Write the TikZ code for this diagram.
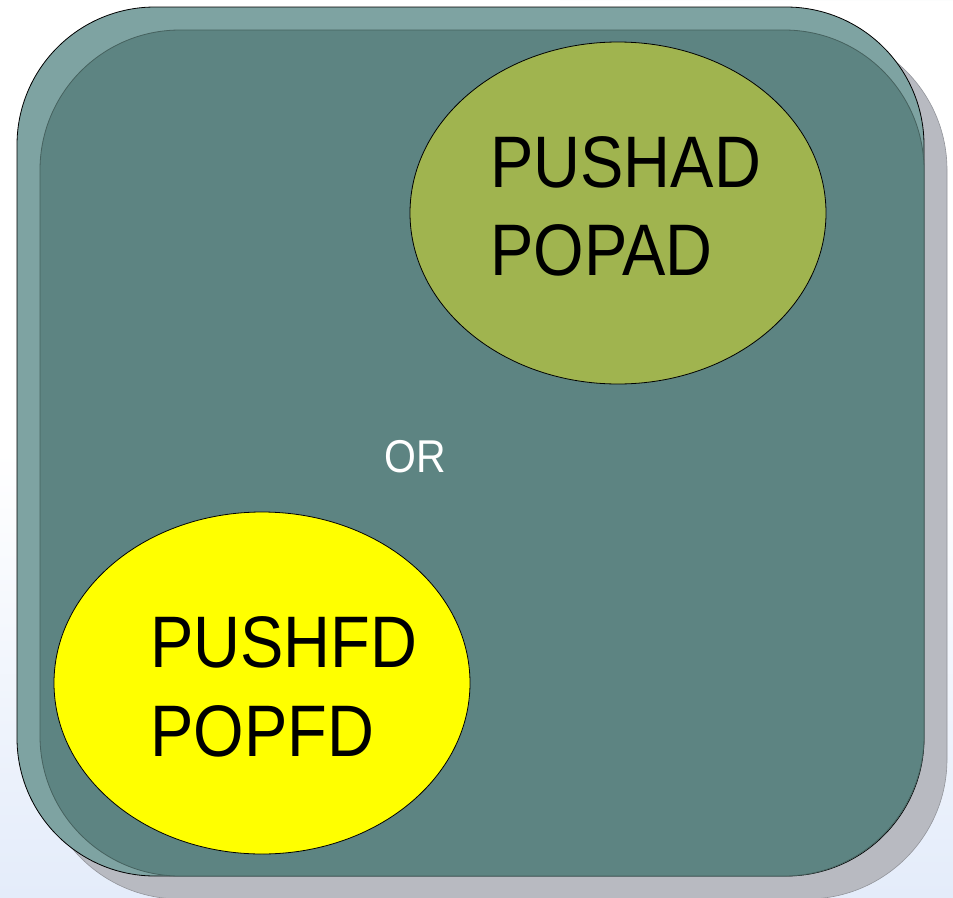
\documentclass[tikz,border=0pt]{standalone}
\usepackage{fontspec}
\newfontfamily\narrowsans[FakeStretch=0.89]{Liberation Sans}
\usetikzlibrary{shapes.geometric}
\definecolor{bgblue}{HTML}{E4ECFA}
\definecolor{swoosh}{HTML}{EEF0F6}
\definecolor{shadowgray}{HTML}{B8BAC1}
\definecolor{lightteal}{HTML}{7EA3A2}
\definecolor{darkteal}{HTML}{5D8482}
\definecolor{tealedge}{HTML}{46625F}
\definecolor{olivegreen}{HTML}{A0B44F}
\definecolor{brightyellow}{HTML}{FFFF00}
\tikzset{
  bubble/.style={ellipse, draw=black, line width=0.8pt, minimum width=416pt, minimum height=342pt, inner sep=0pt},
  bigtext/.style={anchor=base west, inner sep=0pt, font=\narrowsans\fontsize{73}{88}\selectfont, text=black},
  ortext/.style={anchor=base west, inner sep=0pt, font=\narrowsans\fontsize{46}{50}\selectfont, text=white},
}
\begin{document}
\begin{tikzpicture}[x=1pt,y=-1pt]
\useasboundingbox (0,0) rectangle (953,897);
% background
\fill[white] (0,0) rectangle (953,897);
\shade[bottom color=bgblue, top color=white] (0,450) rectangle (953,897);
\fill[swoosh] (953,0) -- (560,0) arc[start angle=180, end angle=270, x radius=393, y radius=150] -- cycle;
% shadow
\draw[shadowgray!80!black, fill=shadowgray, line width=0.6pt, rounded corners=140pt] (40,30) rectangle (947,899);
% outer bevel
\draw[black, fill=lightteal, line width=0.8pt, rounded corners=138pt] (17,7) rectangle (924,876);
% inner face
\draw[tealedge, fill=darkteal, line width=0.8pt, rounded corners=140pt] (40,30) rectangle (924,876);
% ellipses
\node[bubble, fill=olivegreen] (pushad) at (618,213) {};
\node[bubble, fill=brightyellow] (pushfd) at (262,683) {};
% texts
\node[bigtext] (l1) at (490,187) {PUSHAD};
\node[bigtext] (l2) at (490,275) {POPAD};
\node[bigtext] (l3) at (150,667) {PUSHFD};
\node[bigtext] (l4) at (150,756) {POPFD};
\node[ortext] (or) at (384,472) {OR};
\end{tikzpicture}
\end{document}
